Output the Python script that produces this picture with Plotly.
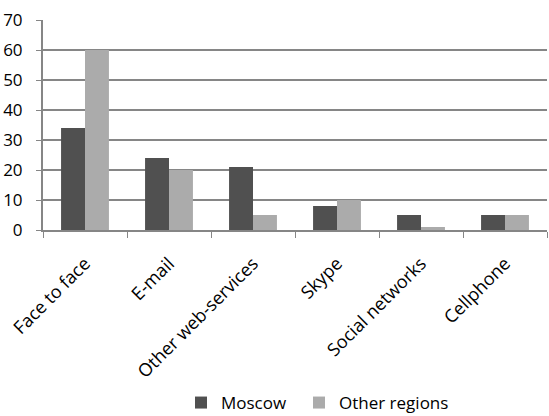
import plotly.graph_objects as go

categories = ["Face to face", "E-mail", "Other web-services", "Skype", "Social networks", "Cellphone"]
moscow = [34, 24, 21, 8, 5, 5]
other_regions = [60, 20, 5, 10, 1, 5]
y_ticks = [0, 10, 20, 30, 40, 50, 60, 70]

FONT = "Open Sans"

fig = go.Figure()
fig.add_trace(go.Bar(name="Moscow", x=categories, y=moscow, legend="legend",
                     marker=dict(color="#505050", line=dict(width=0))))
fig.add_trace(go.Bar(name="Other regions", x=categories, y=other_regions, legend="legend2",
                     marker=dict(color="#ababab", line=dict(width=0))))

leg_common = dict(orientation="h", xref="container", yref="container", xanchor="left",
                  y=1 - 403 / 416, yanchor="middle", font=dict(size=17, family=FONT),
                  bgcolor="rgba(0,0,0,0)", borderwidth=0, itemwidth=30)

fig.update_layout(
    width=549, height=416,
    margin=dict(l=43, r=2, t=20, b=186),
    paper_bgcolor="white", plot_bgcolor="white",
    barmode="group", bargap=0.43, bargroupgap=0,
    font=dict(family=FONT, size=17, color="#000000"),
    showlegend=True,
    legend=dict(x=181 / 549, **leg_common),
    legend2=dict(x=299 / 549, **leg_common),
    xaxis=dict(showline=True, linecolor="#868686", linewidth=2, ticks="outside",
               tickson="boundaries", ticklen=6, tickcolor="#868686", tickwidth=1,
               tickangle=-45, tickfont=dict(size=18, family=FONT), showgrid=False,
               ticklabelstandoff=14),
    yaxis=dict(range=[0, 70], tickvals=y_ticks, showline=True, linecolor="#868686", linewidth=2,
               ticks="outside", ticklen=5, tickcolor="#868686", showgrid=True,
               gridcolor="#868686", gridwidth=2, zeroline=False,
               tickfont=dict(size=17, family=FONT), ticklabelstandoff=10),
)

fig.write_html("out.html")
